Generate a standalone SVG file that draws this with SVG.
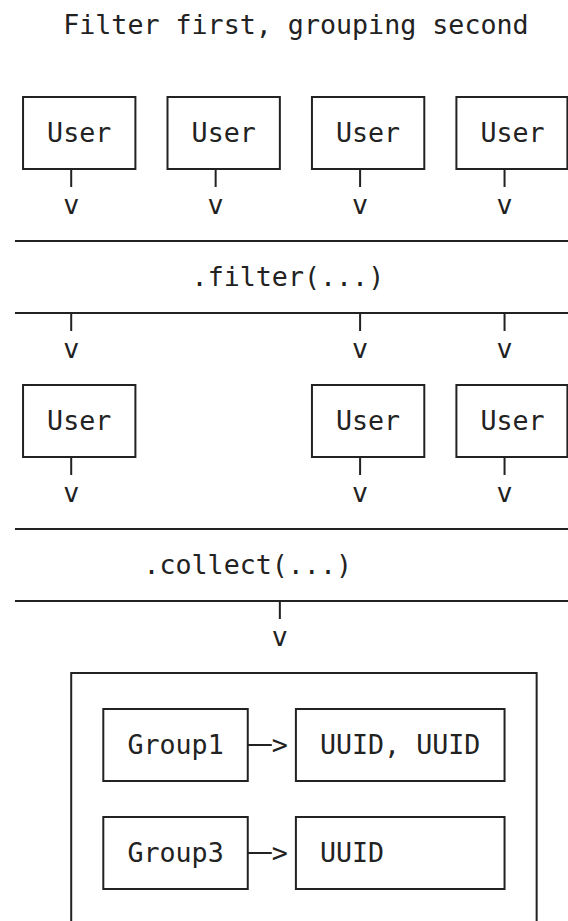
<svg xmlns="http://www.w3.org/2000/svg" width="568" height="921" viewBox="0 0 568 921">
<style>
text{font-family:"DejaVu Sans Mono","Liberation Mono",monospace;font-size:26.66px;fill:#222;white-space:pre}
.b{fill:none;stroke:#222;stroke-width:2}
.l{stroke:#222;stroke-width:2;fill:none}
</style>
<rect width="568" height="921" fill="#fff"/>
<text id="title" x="63.2" y="34">Filter first, grouping second</text>

<g id="user1a"><rect class="b" x="23.05" y="97" width="112.35" height="72"/><text x="47.1" y="142">User</text></g>
<g id="user2a"><rect class="b" x="167.5" y="97" width="112.35" height="72"/><text x="191.6" y="142">User</text></g>
<g id="user3a"><rect class="b" x="311.95" y="97" width="112.35" height="72"/><text x="335.9" y="142">User</text></g>
<g id="user4a"><rect class="b" x="456.4" y="97" width="111" height="72"/><text x="480.4" y="142">User</text></g>

<g id="filter"><line class="l" x1="15" y1="241" x2="568" y2="241"/><line class="l" x1="15" y1="313" x2="568" y2="313"/><text x="191.6" y="286">.filter(...)</text></g>

<g id="user1b"><rect class="b" x="23.05" y="385" width="112.35" height="72"/><text x="47.1" y="430">User</text></g>
<g id="user3b"><rect class="b" x="311.95" y="385" width="112.35" height="72"/><text x="335.9" y="430">User</text></g>
<g id="user4b"><rect class="b" x="456.4" y="385" width="111" height="72"/><text x="480.4" y="430">User</text></g>

<g id="collect"><line class="l" x1="15" y1="529" x2="568" y2="529"/><line class="l" x1="15" y1="601" x2="568" y2="601"/><text x="143.4" y="574">.collect(...)</text></g>

<g id="map">
<path class="l" d="M71.2 930 V673 H536.65 V930"/>
<g id="group1"><rect class="b" x="103.3" y="709" width="144.45" height="72"/><text x="127.4" y="754">Group1</text></g>
<g id="uuids1"><rect class="b" x="295.9" y="709" width="208.65" height="72"/><text x="319.9" y="754">UUID, UUID</text></g>
<g id="group3"><rect class="b" x="103.3" y="817" width="144.45" height="72"/><text x="127.4" y="862">Group3</text></g>
<g id="uuids3"><rect class="b" x="295.9" y="817" width="208.65" height="72"/><text x="319.9" y="862">UUID</text></g>
</g>

<g id="connectors">
<path class="l" d="M71.2 169 V187 M215.65 169 V187 M360.1 169 V187 M504.55 169 V187 M71.2 313 V331 M360.1 313 V331 M504.55 313 V331 M71.2 457 V475 M360.1 457 V475 M504.55 457 V475 M279.85 601 V619 M247.75 745 H271.8 M247.75 853 H271.8"/>
<text x="63.2" y="214">v</text><text x="207.6" y="214">v</text><text x="352.1" y="214">v</text><text x="496.5" y="214">v</text>
<text x="63.2" y="358">v</text><text x="352.1" y="358">v</text><text x="496.5" y="358">v</text>
<text x="63.2" y="502">v</text><text x="352.1" y="502">v</text><text x="496.5" y="502">v</text>
<text x="271.8" y="646">v</text>
<text x="271.8" y="754">&gt;</text><text x="271.8" y="862">&gt;</text>
</g>
</svg>
